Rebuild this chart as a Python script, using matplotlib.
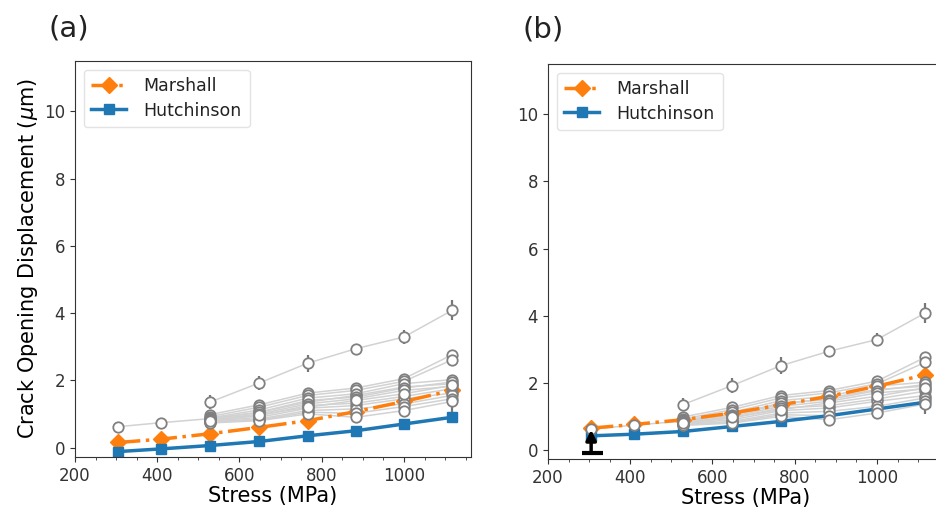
import numpy as np
import matplotlib
matplotlib.use("Agg")
import matplotlib.pyplot as plt

# applied stress levels (MPa)
stress = [305, 410, 528, 648, 766, 883, 1000, 1117]

# model predictions, panel (a)
marshall_a = [0.15, 0.25, 0.41, 0.60, 0.80, 1.07, 1.37, 1.70]
hutch_a = [-0.12, -0.04, 0.06, 0.18, 0.35, 0.50, 0.70, 0.90]
# model predictions, panel (b)
marshall_b = [0.65, 0.76, 0.90, 1.10, 1.34, 1.60, 1.90, 2.24]
hutch_b = [0.42, 0.47, 0.55, 0.70, 0.85, 1.02, 1.22, 1.42]

# measured COD for each crack (nan = not measured at that stress)
nan = np.nan
cracks = [
    [0.62, 0.74, 0.86, 1.05, 1.35, 1.55, 1.80, 1.90],
    [nan, nan, 1.35, 1.92, 2.51, 2.94, 3.29, 4.08],
    [nan, nan, 0.98, 1.27, 1.62, 1.77, 2.05, 2.76],
    [nan, nan, 0.92, 1.20, 1.55, 1.70, 1.97, 2.61],
    [nan, nan, 0.88, 1.12, 1.47, 1.60, 1.90, 2.02],
    [nan, nan, 0.85, 1.05, 1.40, 1.50, 1.77, 1.95],
    [nan, nan, 0.82, 1.00, 1.30, 1.45, 1.70, 1.82],
    [nan, nan, 0.80, 0.95, 1.25, 1.32, 1.52, 1.75],
    [nan, nan, 0.78, 0.90, 1.17, 1.25, 1.45, 1.62],
    [nan, nan, 0.76, 0.85, 1.10, 1.15, 1.30, 1.55],
    [nan, nan, 0.75, 0.82, 1.05, 1.02, 1.22, 1.45],
    [nan, nan, 0.73, 0.80, 1.00, 0.90, 1.10, 1.37],
    [nan, nan, 0.80, 0.97, 1.20, 1.40, 1.60, 1.85],
]
crack_err = [
    [0.04, 0.04, 0.06, 0.08, 0.08, 0.08, 0.08, 0.10],
    [nan, nan, 0.20, 0.22, 0.25, 0.15, 0.20, 0.30],
    [nan, nan, 0.08, 0.12, 0.10, 0.08, 0.10, 0.12],
    [nan, nan, 0.06, 0.20, 0.08, 0.08, 0.12, 0.10],
    [nan, nan, 0.06, 0.08, 0.08, 0.08, 0.10, 0.15],
    [nan, nan, 0.05, 0.06, 0.06, 0.06, 0.08, 0.10],
    [nan, nan, 0.05, 0.06, 0.06, 0.06, 0.08, 0.10],
    [nan, nan, 0.05, 0.06, 0.06, 0.06, 0.08, 0.10],
    [nan, nan, 0.05, 0.06, 0.06, 0.06, 0.08, 0.10],
    [nan, nan, 0.05, 0.06, 0.06, 0.06, 0.08, 0.10],
    [nan, nan, 0.05, 0.06, 0.06, 0.06, 0.08, 0.10],
    [nan, nan, 0.05, 0.06, 0.06, 0.06, 0.08, 0.30],
    [nan, nan, 0.05, 0.06, 0.06, 0.06, 0.08, 0.10],
]

dark = "#333333"
plt.rcParams["font.family"] = "DejaVu Sans"
plt.rcParams["axes.edgecolor"] = dark
plt.rcParams["xtick.color"] = dark
plt.rcParams["ytick.color"] = dark
plt.rcParams["text.color"] = "#222222"

fig = plt.figure(figsize=(9.37, 5.14), dpi=100)
ax_a = fig.add_axes([0.080, 0.111, 0.4227, 0.7704])
ax_b = fig.add_axes([0.5848, 0.107, 0.4227, 0.7685])


def draw_panel(ax, marshall, hutch):
    x = np.array(stress, dtype=float)
    for y, e in zip(cracks, crack_err):
        y = np.array(y)
        ax.plot(x, y, "-", color="#d2d2d2", lw=1.1, zorder=1)
        ax.errorbar(x, y, yerr=e, fmt="none", ecolor="#777777", elinewidth=1.6,
                    capsize=0, zorder=3)
        ax.plot(x, y, "o", ms=7.5, mfc="white", mec="#808080", mew=1.3, zorder=4)
    ax.plot(x, marshall, "-.", color="#ff7f0e", lw=2.5, marker="D", ms=8,
            label="Marshall", zorder=2)
    ax.plot(x, hutch, "-", color="#1f77b4", lw=2.5, marker="s", ms=7,
            label="Hutchinson", zorder=2)
    ax.set_xlim(200, 1163)
    ax.set_xticks([200, 400, 600, 800, 1000])
    ax.set_xticks(np.arange(250, 1163, 50), minor=True)
    ax.set_yticks([0, 2, 4, 6, 8, 10])
    ax.tick_params(labelsize=12)
    ax.tick_params(which="minor", length=2.5)
    ax.set_xlabel("Stress (MPa)", fontsize=15, labelpad=1)
    leg = ax.legend(loc="upper left", fontsize=12.5, handlelength=2.0,
                    borderpad=0.45, labelspacing=0.35, handletextpad=1.0)
    leg.get_frame().set_edgecolor("#dddddd")


draw_panel(ax_a, marshall_a, hutch_a)
ax_a.set_ylim(-0.28, 11.5)
ax_a.set_ylabel("Crack Opening Displacement ($\\mu$m)", fontsize=15, labelpad=3)

draw_panel(ax_b, marshall_b, hutch_b)
ax_b.set_ylim(-0.27, 11.5)
# lower-bound marker at the first stress level
ax_b.annotate("", xy=(stress[0], 0.6), xytext=(stress[0], -0.1),
              arrowprops=dict(arrowstyle="-|>", color="black", lw=2.5,
                              mutation_scale=15, shrinkA=0, shrinkB=0),
              zorder=5)
ax_b.plot([283, 333], [-0.1, -0.1], "-", color="black", lw=3, zorder=5,
          solid_capstyle="butt")

fig.text(0.052, 0.945, "(a)", fontsize=21, va="center")
fig.text(0.558, 0.942, "(b)", fontsize=21, va="center")

fig.savefig("out.png", dpi=100)
